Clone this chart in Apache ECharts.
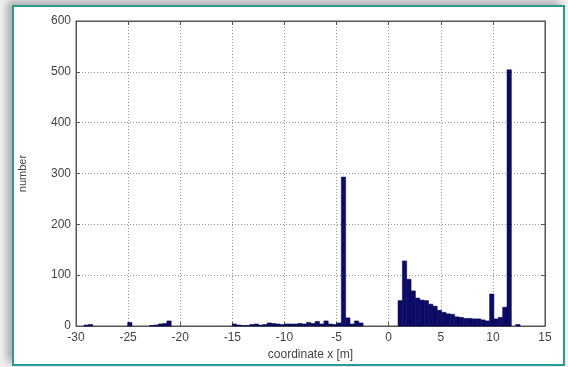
<!DOCTYPE html>
<html>
<head>
<meta charset="utf-8">
<script src="https://cdn.jsdelivr.net/npm/echarts@6/dist/echarts.min.js"></script>
<style>
    html, body { margin: 0; padding: 0; background: #f2f2f2; }
    .page { position: relative; width: 568px; height: 367px; overflow: hidden; }
    .frame {
        position: absolute; left: 12px; top: 5px; width: 549px; height: 357px;
        border: 2px solid #2a9a94; background: #fff;
        box-shadow: -5px -4px 8px rgba(0,0,0,0.3);
    }
    #histChart { position: absolute; left: 0; top: 0; width: 568px; height: 367px; }
</style>
</head>
<body>
<div class="page">
    <div class="frame"></div>
    <div id="histChart"></div>
</div>
<script>
// histogram bins (100 bins, from min to max of the data)
const binStart = -29.23;
const binWidth = 0.4184;
const counts = [
    2, 3, 0, 0, 0, 0, 0, 0, 0, 0,
    7, 0, 0, 0, 0, 1, 2, 4, 5, 10,
    0, 0, 0, 0, 0, 0, 0, 0, 0, 0,
    0, 0, 0, 0, 4, 2, 1, 1, 3, 4,
    2, 3, 6, 5, 4, 3, 4, 4, 4, 5,
    4, 7, 5, 9, 4, 10, 4, 3, 6, 293,
    16, 4, 10, 6, 0, 0, 0, 0, 0, 0,
    0, 0, 50, 128, 92, 69, 55, 51, 50, 43,
    39, 31, 27, 24, 23, 18, 17, 15, 15, 14,
    14, 12, 10, 63, 14, 17, 37, 504, 0, 3
];
const xTicks = [-30, -25, -20, -15, -10, -5, 0, 5, 10, 15];
const yTicks = [0, 100, 200, 300, 400, 500, 600];

const axisColor = '#555';
const labelColor = '#444';
const gridLine = { show: true, lineStyle: { color: '#9a9a9a', type: [1, 2], width: 1 } };
const plainAxis = { show: true, onZero: false, lineStyle: { color: axisColor } };
const inTick = { show: true, inside: true, length: 4, lineStyle: { color: axisColor } };

// [left edge, right edge, count]
const bins = counts
    .map((c, i) => [binStart + i * binWidth, binStart + (i + 1) * binWidth, c])
    .filter(d => d[2] > 0);

const chart = echarts.init(document.getElementById('histChart'));
chart.setOption({
    backgroundColor: 'transparent',
    animation: false,
    grid: { left: 76, right: 23, top: 21, bottom: 41, show: true, borderColor: axisColor, borderWidth: 1 },
    xAxis: [{
        type: 'value', min: -30, max: 15, interval: 5,
        name: 'coordinate x [m]', nameLocation: 'middle', nameGap: 20,
        nameTextStyle: { color: labelColor, fontSize: 12, fontFamily: 'Liberation Sans, Arial' },
        axisLine: plainAxis,
        axisTick: inTick,
        axisLabel: { color: labelColor, fontSize: 12, margin: 6, fontFamily: 'Liberation Sans, Arial',
            formatter: v => xTicks.includes(v) ? String(v) : '' },
        splitLine: gridLine
    }, {
        type: 'value', min: -30, max: 15, interval: 5, position: 'top',
        axisLine: plainAxis, axisTick: inTick,
        axisLabel: { show: false }, splitLine: { show: false }
    }],
    yAxis: [{
        type: 'value', min: 0, max: 600, interval: 100,
        name: 'number', nameLocation: 'middle', nameGap: 48, nameRotate: 90,
        nameTextStyle: { color: labelColor, fontSize: 11, fontFamily: 'Liberation Sans, Arial' },
        axisLine: plainAxis,
        axisTick: inTick,
        axisLabel: { color: labelColor, fontSize: 12, margin: 5, fontFamily: 'Liberation Sans, Arial',
            formatter: v => yTicks.includes(v) ? String(v) : '' },
        splitLine: gridLine
    }, {
        type: 'value', min: 0, max: 600, interval: 100, position: 'right',
        axisLine: plainAxis, axisTick: inTick,
        axisLabel: { show: false }, splitLine: { show: false }
    }],
    series: [{
        type: 'custom',
        xAxisIndex: 0, yAxisIndex: 0,
        encode: { x: [0, 1], y: 2 },
        data: bins,
        renderItem: function (params, api) {
            const p0 = api.coord([api.value(0), api.value(2)]);
            const p1 = api.coord([api.value(1), 0]);
            return {
                type: 'rect',
                shape: { x: p0[0], y: p0[1], width: p1[0] - p0[0], height: p1[1] - p0[1] },
                style: { fill: '#0b0b6c', stroke: '#06063e', lineWidth: 0.5 }
            };
        }
    }]
});
</script>
</body>
</html>
